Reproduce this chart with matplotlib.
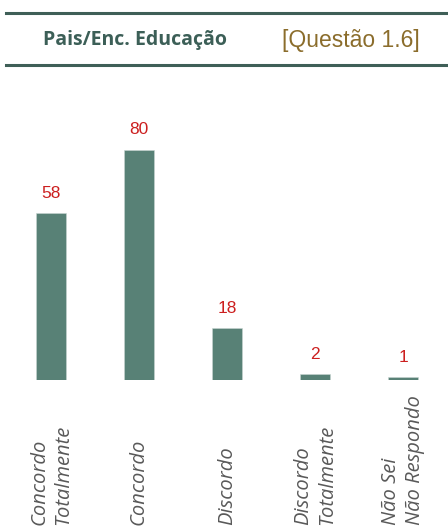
import matplotlib.pyplot as plt
import matplotlib.transforms as transforms
from matplotlib.lines import Line2D

# Data
categories = ['Concordo\nTotalmente', 'Concordo', 'Discordo', 'Discordo\nTotalmente', 'Não Sei\nNão Respondo']
values = [58, 80, 18, 2, 1]

title_left = 'Pais/Enc. Educação'
title_right = '[Questão 1.6]'

bar_color = '#588176'
line_color = '#3f5f57'
label_color = '#cc1f1f'

fig = plt.figure(figsize=(4.48, 5.30), dpi=100)

# Header lines
for y in [1 - 13 / 530, 1 - 65 / 530]:
    fig.add_artist(Line2D([6 / 448, 1], [y, y], color=line_color, linewidth=2.2))

fig.text(135 / 448, 1 - 40 / 530, title_left, fontsize=14, fontweight='bold', family='Open Sans',
         color='#3c5f57', ha='center', va='center')
fig.text(351 / 448, 1 - 40 / 530, title_right, fontsize=16.5, family='Liberation Sans',
         color='#8b6d2c', ha='center', va='center')

# Bars
bottom = (530 - 380) / 530
ax = fig.add_axes([0, bottom, 1, 1 - bottom - 100 / 530])
x = list(range(len(values)))
ax.bar(x, values, width=30 / 88, color=bar_color, edgecolor='#c8d6d2', linewidth=0.4)
ax.set_xlim(-51 / 88, (448 - 51) / 88)
ax.set_ylim(0, 280 / 2.875)
ax.axis('off')

# Value labels
for xi, v in zip(x, values):
    ax.annotate(str(v), (xi, v), xytext=(0, 9), textcoords='offset points', ha='center', va='bottom',
                fontsize=12.5, family='Liberation Sans', color=label_color)

# Category labels
trans = transforms.blended_transform_factory(ax.transData, fig.transFigure)
for xi, cat in zip(x, categories):
    ax.text(xi, 5 / 530, cat, transform=trans, rotation=90, ha='center', va='bottom',
            multialignment='left', fontsize=14.5, style='italic', family='Open Sans',
            color='#595959', linespacing=1.25)

fig.savefig('out.png', dpi=100)
